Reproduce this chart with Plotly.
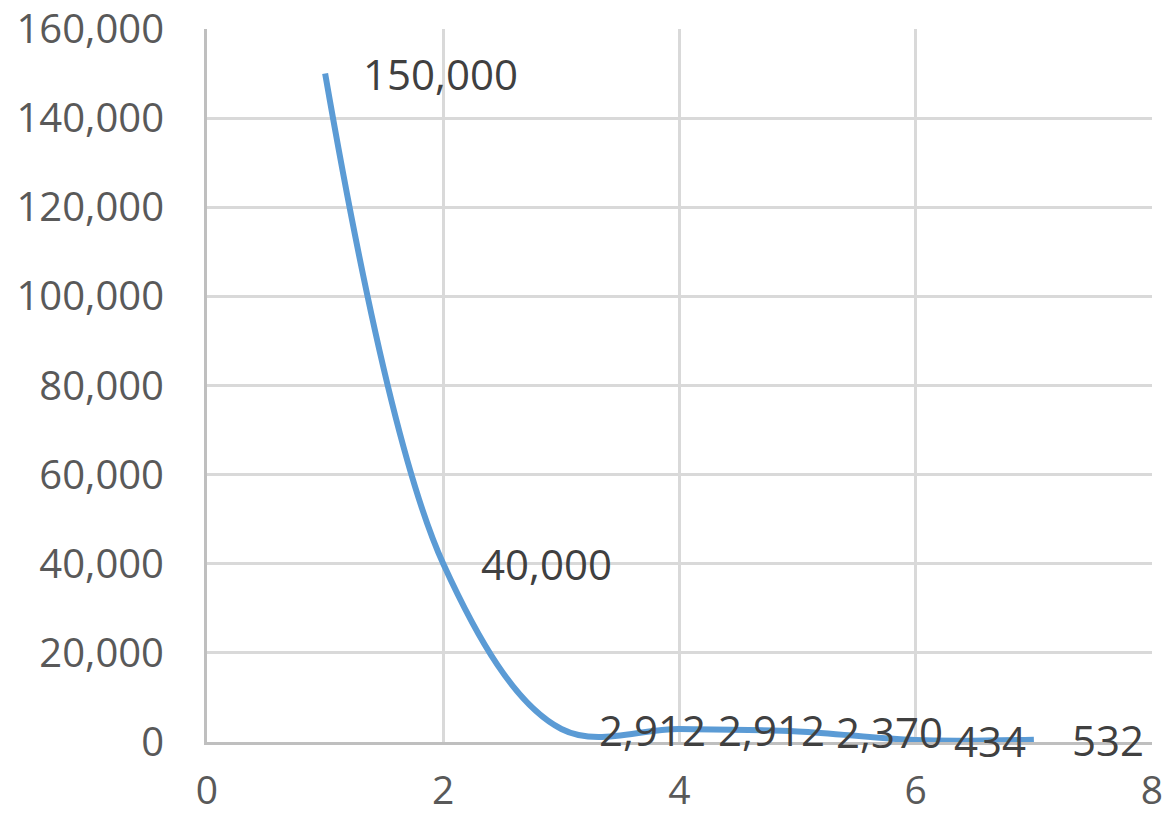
import plotly.graph_objects as go

# Series values
x_vals = [1, 2, 3, 4, 5, 6, 7]
y_vals = [150000, 40000, 2912, 2912, 2370, 434, 532]

# Axis ticks
x_ticks = [0, 2, 4, 6, 8]
y_ticks = [0, 20000, 40000, 60000, 80000, 100000, 120000, 140000, 160000]

FONT = "Open Sans"

fig = go.Figure()
fig.add_trace(go.Scatter(
    x=x_vals, y=y_vals,
    mode="lines",
    line=dict(color="#5b9bd5", width=6, shape="spline", smoothing=1.0),
    hoverinfo="skip",
    showlegend=False,
))

# Value labels placed to the right of each point
for xv, yv in zip(x_vals, y_vals):
    fig.add_annotation(
        x=xv, y=yv, text=f"{yv:,}",
        xanchor="left", yanchor="middle", xshift=36, yshift=0,
        showarrow=False,
        font=dict(family=FONT, size=42, color="#404040"),
    )

fig.update_layout(
    width=1165, height=819,
    margin=dict(l=207, r=13, t=29, b=77),
    paper_bgcolor="white", plot_bgcolor="white",
    xaxis=dict(
        range=[0, 8], tickvals=x_ticks, ticktext=[str(v) for v in x_ticks],
        showgrid=True, gridcolor="#d9d9d9", gridwidth=3,
        showline=True, linecolor="#bfbfbf", linewidth=3,
        zeroline=False, ticks="", ticklabelstandoff=12, automargin=False,
        tickfont=dict(family=FONT, size=39, color="#595959"),
    ),
    yaxis=dict(
        range=[0, 160000], tickvals=y_ticks, ticktext=[f"{v:,}" for v in y_ticks],
        showgrid=True, gridcolor="#d9d9d9", gridwidth=3,
        showline=True, linecolor="#bfbfbf", linewidth=3,
        zeroline=False, ticks="", ticklabelstandoff=32, automargin=False,
        tickfont=dict(family=FONT, size=40, color="#595959"),
    ),
)

fig.write_html("out.html")
